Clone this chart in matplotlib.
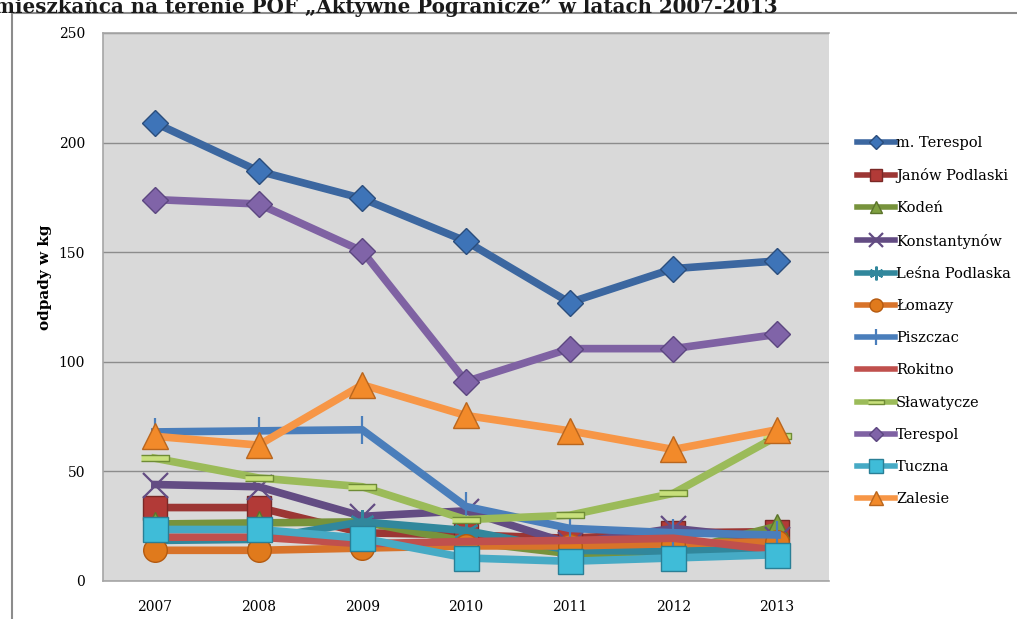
import matplotlib

matplotlib.use("Agg")
import matplotlib.pyplot as plt  # noqa: E402
from matplotlib.lines import Line2D  # noqa: E402

YEARS = ["2007", "2008", "2009", "2010", "2011", "2012", "2013"]

m_terespol = [209, 187, 174.5, 155, 127, 142.5, 146]
janow_podlaski = [33.5, 33.5, 22, 21, 19.5, 22, 22.5]
koden = [26, 26.5, 27, 18, 12.5, 13, 25]
konstantynow = [44, 43, 29.5, 32, 17, 24, 19]
lesna_podlaska = [18.5, 19, 27, 23, 14, 13.5, 15]
lomazy = [14, 14, 15, 16, 16, 17, 18]
piszczac = [68, 68.5, 69, 34, 24, 22, 21]
rokitno = [20, 20, 17, 18, 18.5, 19.5, 14]
slawatycze = [56, 47, 43, 28, 30, 40, 66]
terespol = [174, 172, 150.5, 91, 106, 106, 112.5]
tuczna = [23.5, 23.5, 19.5, 10.5, 9, 10.5, 12]
zalesie = [66, 62, 89.5, 75.5, 68.5, 60, 69]

TITLE = "mieszkańca na terenie POF „Aktywne Pogranicze” w latach 2007-2013"
YLABEL = "odpady w kg"

BAR = [(-2.2, -0.5), (2.2, -0.5), (2.2, 0.5), (-2.2, 0.5)]

# (label, values, line colour, marker, marker size, marker face, marker edge)
SERIES = [
    ("m. Terespol", m_terespol, "#3c67a0", "D", 13, "#3e74b8", "#2b4d7c"),
    ("Janów Podlaski", janow_podlaski, "#9c3634", "s", 17, "#b23a37", "#7a2826"),
    ("Kodeń", koden, "#77933c", "^", 17, "#7fa040", "#5b742c"),
    ("Konstantynów", konstantynow, "#634c83", "x", 18, "#634c83", "#634c83"),
    ("Leśna Podlaska", lesna_podlaska, "#31879c", (6, 2, 0), 18, "#31879c", "#31879c"),
    ("Łomazy", lomazy, "#d8732a", "o", 17, "#e07a1c", "#b45a10"),
    ("Piszczac", piszczac, "#4a7ebb", "|", 20, "#4a7ebb", "#4a7ebb"),
    ("Rokitno", rokitno, "#c0504d", "None", 0, "#c0504d", "#c0504d"),
    ("Sławatycze", slawatycze, "#9bbb59", BAR, 20, "#c8e07c", "#6f8c36"),
    ("Terespol", terespol, "#7f62a3", "D", 13, "#8064a8", "#5c4680"),
    ("Tuczna", tuczna, "#46aac5", "s", 18, "#3fbcd8", "#2a7f96"),
    ("Zalesie", zalesie, "#f79646", "^", 19, "#f28a2a", "#b9661e"),
]

plt.rcParams["font.family"] = ["DejaVu Serif"]

fig = plt.figure(figsize=(10.17, 6.19), dpi=100)
ax = fig.add_axes([0.1013, 0.0614, 0.7137, 0.8853])
ax.set_facecolor("#d9d9d9")

x = range(len(YEARS))
for label, vals, color, marker, ms, mfc, mec in SERIES:
    ax.plot(
        x,
        vals,
        color=color,
        lw=5.5,
        marker=marker,
        markersize=ms,
        markerfacecolor=mfc,
        markeredgecolor=mec,
        markeredgewidth=1.6 if marker in ("x", "|", (6, 2, 0)) else 1.0,
        solid_joinstyle="round",
        label=label,
    )

ax.set_xlim(-0.5, len(YEARS) - 0.5)
ax.set_ylim(0, 250)
ax.set_yticks([0, 50, 100, 150, 200, 250])
ax.set_xticks(list(x))
ax.set_xticklabels(YEARS)
ax.yaxis.grid(True, color="#8c8c8c", lw=1.0)
ax.set_axisbelow(True)
ax.tick_params(axis="both", length=0, labelsize=10)
ax.tick_params(axis="x", pad=14)
ax.tick_params(axis="y", pad=13)
for side in ("left", "bottom", "top", "right"):
    ax.spines[side].set_color("#a6a6a6")
    ax.spines[side].set_linewidth(1.2)
ax.spines["right"].set_visible(False)

fig.text(
    45 / 1017, 1 - 277 / 619, YLABEL, rotation=90, ha="center", va="center",
    fontsize=11, fontweight="bold",
)

handles, labels = ax.get_legend_handles_labels()
leg = fig.legend(
    handles,
    labels,
    loc="upper left",
    bbox_to_anchor=(851 / 1017, 1 - 130 / 619),
    frameon=False,
    fontsize=10.5,
    handlelength=2.6,
    handletextpad=0.1,
    labelspacing=1.25,
    markerscale=0.55,
    borderaxespad=0,
)
for line in leg.get_lines():
    line.set_linewidth(4)

fig.text(-6 / 1017, 1 - 13 / 619, TITLE, ha="left", va="baseline",
         fontsize=14.3, fontweight="bold", color="#1a1a1a")

# outer frame of the chart object
fig.add_artist(Line2D([12 / 1017, 1], [1 - 13 / 619] * 2, color="#8c8c8c", lw=1.5,
                      transform=fig.transFigure))
fig.add_artist(Line2D([12 / 1017] * 2, [1 - 13 / 619, 0], color="#8c8c8c", lw=1.5,
                      transform=fig.transFigure))

fig.savefig("out.png", dpi=100)
